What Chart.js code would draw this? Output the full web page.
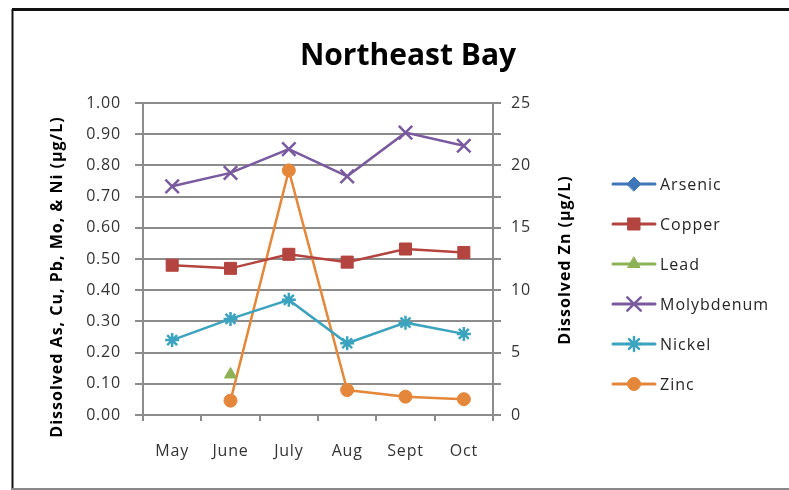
<!DOCTYPE html>
<html>
<head>
<meta charset="utf-8">
<script src="https://cdn.jsdelivr.net/npm/chart.js@4"></script>
<style>
  html, body { margin: 0; padding: 0; background: #fff; }
  #wrap { width: 789px; height: 490px; }
</style>
</head>
<body>
<div id="wrap"><canvas id="myChart" width="789" height="490"></canvas></div>
<script>
// values
var months = ['May', 'June', 'July', 'Aug', 'Sept', 'Oct'];
var arsenic = [null, null, null, null, null, null];
var copper = [0.48, 0.47, 0.515, 0.49, 0.532, 0.521];
var lead = [null, 0.13, null, null, null, null];
var molybdenum = [0.733, 0.776, 0.852, 0.765, 0.905, 0.863];
var nickel = [0.24, 0.308, 0.369, 0.23, 0.296, 0.26];
var zinc = [null, 1.15, 19.6, 2.0, 1.47, 1.27]; // right axis
var leftTicks = [0, 0.1, 0.2, 0.3, 0.4, 0.5, 0.6, 0.7, 0.8, 0.9, 1.0];
var rightTicks = [0, 5, 10, 15, 20, 25];

var chartTitle = 'Northeast Bay';
var leftTitle = 'Dissolved As, Cu, Pb, Mo, & Ni (µg/L)';
var rightTitle = 'Dissolved Zn (µg/L)';

var gridGray = '#8c8c8c';
var font = "'Open Sans', 'DejaVu Sans', sans-serif";

function series(label, data, color, style, radius, axis) {
  return {
    label: label,
    data: data,
    yAxisID: axis || 'y',
    borderColor: color,
    backgroundColor: color,
    pointBackgroundColor: color,
    pointBorderColor: color,
    borderWidth: 2.5,
    pointStyle: style,
    pointRadius: radius,
    pointHoverRadius: radius,
    pointBorderWidth: (style == 'crossRot' || style == 'star') ? 2.5 : 1,
    tension: 0
  };
}

var datasets = [
  series('Arsenic', arsenic, '#3F76B8', 'rectRot', 7),
  series('Copper', copper, '#B4443F', 'rect', 8.5),
  series('Lead', lead, '#8DB255', 'triangle', 7),
  series('Molybdenum', molybdenum, '#7A5A9E', 'crossRot', 9.5),
  series('Nickel', nickel, '#3BA3BD', 'star', 7),
  series('Zinc', zinc, '#E5873A', 'circle', 6.5, 'y1')
];

// white page, frame lines, wider letter spacing for all text
var framePlugin = {
  id: 'frame',
  beforeDraw: function(chart) {
    var ctx = chart.ctx;
    ctx.save();
    ctx.fillStyle = '#fff';
    ctx.fillRect(0, 0, chart.width, chart.height);
    ctx.strokeStyle = '#111';
    ctx.lineWidth = 3;
    ctx.beginPath();
    ctx.moveTo(12, 9.5); ctx.lineTo(chart.width, 9.5);
    ctx.stroke();
    ctx.lineWidth = 2;
    ctx.beginPath();
    ctx.moveTo(12.5, 9); ctx.lineTo(12.5, chart.height);
    ctx.stroke();
    ctx.strokeStyle = '#888';
    ctx.beginPath();
    ctx.moveTo(12, 489); ctx.lineTo(chart.width, 489);
    ctx.stroke();
    ctx.restore();
    ctx.letterSpacing = '0.8px';
  }
};

// title and axis titles (right one reads bottom to top like the left one)
var titlesPlugin = {
  id: 'titles',
  afterDraw: function(chart) {
    var ctx = chart.ctx;
    var a = chart.chartArea;
    ctx.save();
    ctx.fillStyle = '#000';
    ctx.textAlign = 'center';
    ctx.textBaseline = 'middle';
    ctx.letterSpacing = '0px';
    ctx.font = 'bold 30px ' + font;
    ctx.fillText(chartTitle, 408, 56);

    ctx.letterSpacing = '1px';
    ctx.font = 'bold 16px ' + font;
    ctx.save();
    ctx.translate(a.left - 86, 277);
    ctx.rotate(-Math.PI / 2);
    ctx.fillText(leftTitle, 0, 0);
    ctx.restore();
    ctx.save();
    ctx.translate(a.right + 72, 260);
    ctx.rotate(-Math.PI / 2);
    ctx.fillText(rightTitle, 0, 0);
    ctx.restore();
    ctx.restore();
  }
};

// legend drawn from the datasets, Excel style (line sample with marker)
var sideLegend = {
  id: 'sideLegend',
  afterDraw: function(chart) {
    var ctx = chart.ctx;
    var x0 = chart.chartArea.right + 120;
    var y0 = 184;
    ctx.save();
    chart.data.datasets.forEach(function(ds, i) {
      var y = y0 + i * 40;
      ctx.strokeStyle = ds.borderColor;
      ctx.lineWidth = 3;
      ctx.lineCap = 'round';
      ctx.beginPath();
      ctx.moveTo(x0, y); ctx.lineTo(x0 + 42, y);
      ctx.stroke();
      ctx.fillStyle = ds.pointBackgroundColor;
      ctx.strokeStyle = ds.pointBorderColor;
      ctx.lineWidth = ds.pointBorderWidth;
      Chart.helpers.drawPoint(ctx, {
        pointStyle: ds.pointStyle, rotation: 0, radius: ds.pointRadius,
        borderWidth: ds.pointBorderWidth
      }, x0 + 21, y);
      ctx.fillStyle = '#262626';
      ctx.font = '16px ' + font;
      ctx.letterSpacing = '1px';
      ctx.textBaseline = 'middle';
      ctx.textAlign = 'left';
      ctx.fillText(ds.label, x0 + 47, y + 1);
    });
    ctx.restore();
  }
};

new Chart(document.getElementById('myChart'), {
  type: 'line',
  data: { labels: months, datasets: datasets },
  plugins: [framePlugin, titlesPlugin, sideLegend],
  options: {
    responsive: false,
    animation: false,
    layout: { padding: { left: 13, right: 204, top: 103, bottom: 0 } },
    plugins: {
      legend: { display: false },
      tooltip: { enabled: false },
      title: { display: false }
    },
    scales: {
      x: {
        offset: true,
        grid: { offset: true, drawOnChartArea: false, color: gridGray, lineWidth: 2, tickLength: 6 },
        border: { color: gridGray, width: 2 },
        ticks: { color: '#333', font: { family: font, size: 16 }, padding: 21 },
        afterFit: function(s) { s.height = 75; }
      },
      y: {
        position: 'left',
        min: 0, max: 1,
        afterBuildTicks: function(s) { s.ticks = leftTicks.map(function(v) { return { value: v }; }); },
        ticks: {
          color: '#333', font: { family: font, size: 16 }, padding: 14,
          callback: function(v) { return Number(v).toFixed(2); }
        },
        grid: { color: gridGray, lineWidth: 2, tickLength: 8 },
        border: { color: gridGray, width: 2 },
        afterFit: function(s) { s.width = 130; }
      },
      y1: {
        position: 'right',
        min: 0, max: 25,
        afterBuildTicks: function(s) {
          var t = [];
          for (var i = 0; i < rightTicks.length; i++) {
            t.push({ value: rightTicks[i] });
            if (i < rightTicks.length - 1) t.push({ value: rightTicks[i] + 2.5 });
          }
          s.ticks = t;
        },
        ticks: {
          color: '#333', font: { family: font, size: 16 }, padding: 10,
          callback: function(v) { return rightTicks.indexOf(v) >= 0 ? String(v) : ''; }
        },
        grid: { drawOnChartArea: false, color: gridGray, lineWidth: 2, tickLength: 8 },
        border: { color: gridGray, width: 2 },
        afterFit: function(s) { s.width = 92; }
      }
    }
  }
});
</script>
</body>
</html>
